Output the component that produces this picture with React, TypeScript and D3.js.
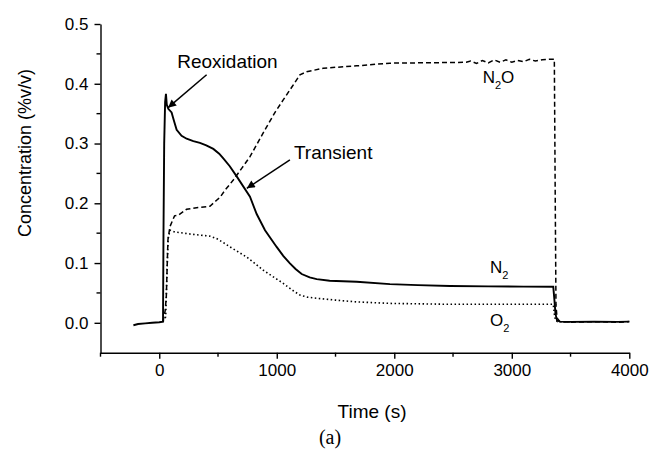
import React, { useEffect, useRef } from 'react';
import * as d3 from 'd3';

// time axis (s) and concentration axis (%v/v)
const xMajorTicks = [0, 1000, 2000, 3000, 4000];
const xMinorTicks = [-500, 500, 1500, 2500, 3500];
const yMajorTicks = [0.0, 0.1, 0.2, 0.3, 0.4, 0.5];
const yMinorTicks = [0.05, 0.15, 0.25, 0.35, 0.45];

// N2 (solid)
const n2Time = [-220, -180, -120, -60, 0, 32, 36, 42, 50, 57, 64, 77, 105, 125, 148, 190, 233, 290, 346, 400, 460, 510, 545, 600, 659, 772, 829, 900, 999, 1055, 1112, 1160, 1212, 1280, 1340, 1450, 1680, 1963, 2200, 2474, 2800, 3100, 3353, 3362, 3372, 3385, 3410, 3500, 3700, 3900, 4000];
const n2Values = [-0.004, -0.002, -0.001, 0.0, 0.001, 0.002, 0.15, 0.3, 0.37, 0.383, 0.365, 0.358, 0.352, 0.338, 0.323, 0.313, 0.308, 0.304, 0.301, 0.297, 0.291, 0.283, 0.275, 0.262, 0.245, 0.211, 0.182, 0.155, 0.127, 0.112, 0.0995, 0.09, 0.0816, 0.076, 0.0732, 0.0705, 0.0687, 0.0648, 0.063, 0.0615, 0.061, 0.0605, 0.0603, 0.04, 0.015, 0.004, 0.002, 0.0015, 0.002, 0.0015, 0.002];

// N2O (dashed)
const n2oTime = [32, 50, 60, 74, 91, 130, 162, 233, 330, 431, 488, 517, 560, 602, 630, 700, 772, 840, 914, 985, 1055, 1130, 1197, 1254, 1396, 1680, 1963, 2200, 2474, 2612, 2650, 2700, 2750, 2800, 2850, 2900, 2950, 3000, 3050, 3100, 3150, 3200, 3260, 3326, 3362, 3370, 3376, 3385, 3410, 3500, 3700, 3900, 4000];
const n2oValues = [0.002, 0.02, 0.044, 0.139, 0.161, 0.179, 0.18, 0.19, 0.193, 0.195, 0.205, 0.21, 0.222, 0.232, 0.239, 0.258, 0.278, 0.302, 0.328, 0.352, 0.373, 0.395, 0.415, 0.42, 0.426, 0.43, 0.4345, 0.435, 0.4355, 0.436, 0.438, 0.434, 0.439, 0.435, 0.44, 0.436, 0.44, 0.436, 0.439, 0.437, 0.441, 0.438, 0.44, 0.441, 0.441, 0.2, 0.03, 0.008, 0.002, 0.001, 0.002, 0.001, 0.002];

// O2 (dotted)
const o2Time = [32, 55, 65, 75, 91, 134, 261, 431, 488, 540, 602, 670, 744, 810, 885, 970, 1055, 1130, 1197, 1260, 1340, 1500, 1680, 1963, 2474, 3000, 3353, 3362, 3372, 3390, 3500];
const o2Values = [0.002, 0.01, 0.08, 0.14, 0.155, 0.152, 0.1486, 0.145, 0.141, 0.135, 0.127, 0.119, 0.11, 0.1, 0.088, 0.077, 0.066, 0.055, 0.0464, 0.043, 0.041, 0.038, 0.035, 0.0325, 0.031, 0.031, 0.031, 0.015, 0.004, 0.002, 0.0015];

// annotations in data coordinates
const arrowNotes = [
  { text: 'Reoxidation', tx: 153, ty: 0.426, x1: 403, y1: 0.415, x2: 75, y2: 0.36 },
  { text: 'Transient', tx: 1146, ty: 0.2737, x1: 1112, y1: 0.2725, x2: 745, y2: 0.225 },
];
const seriesLabels = [
  { base: 'N', sub: '2', tail: 'O', t: 2752, v: 0.401 },
  { base: 'N', sub: '2', tail: '', t: 2814, v: 0.0827 },
  { base: 'O', sub: '2', tail: '', t: 2814, v: -0.005 },
];

const font = '"Liberation Sans", Arial, sans-serif';

export default function App() {
  const ref = useRef<SVGSVGElement>(null);

  useEffect(() => {
    const svg = d3.select(ref.current);
    svg.selectAll('*').remove();

    const x = d3.scaleLinear().domain([-500, 4000]).range([100.5, 629.3]);
    const y = d3.scaleLinear().domain([-0.05, 0.5]).range([352.7, 24]);

    // axes
    const xAxis = svg.append('g').attr('transform', `translate(0,${y(-0.05)})`)
      .call(d3.axisBottom(x).tickValues(xMajorTicks).tickSize(6).tickSizeOuter(0).tickPadding(5).tickFormat(d3.format('d')));
    xAxis.selectAll('text').attr('font-size', 17).attr('font-family', font).attr('fill', '#000');
    xAxis.select('.domain').attr('stroke-width', 1.4);
    xAxis.selectAll('.tick line').attr('stroke-width', 1.4);
    xAxis.append('g').selectAll('line').data(xMinorTicks).enter().append('line')
      .attr('x1', d => x(d)).attr('x2', d => x(d)).attr('y1', 0).attr('y2', 4)
      .attr('stroke', '#000').attr('stroke-width', 1.4);

    const yAxis = svg.append('g').attr('transform', `translate(${x(-500)},0)`)
      .call(d3.axisLeft(y).tickValues(yMajorTicks).tickSize(6).tickSizeOuter(0).tickPadding(6).tickFormat(d3.format('.1f')));
    yAxis.selectAll('text').attr('font-size', 17).attr('font-family', font).attr('fill', '#000');
    yAxis.select('.domain').attr('stroke-width', 1.4);
    yAxis.selectAll('.tick line').attr('stroke-width', 1.4);
    yAxis.append('g').selectAll('line').data(yMinorTicks).enter().append('line')
      .attr('y1', d => y(d)).attr('y2', d => y(d)).attr('x1', 0).attr('x2', -4)
      .attr('stroke', '#000').attr('stroke-width', 1.4);

    // titles
    svg.append('text').attr('x', 372).attr('y', 418).attr('text-anchor', 'middle')
      .attr('font-family', font).attr('font-size', 19).text('Time (s)');
    svg.append('text').attr('transform', 'translate(31,153) rotate(-90)').attr('text-anchor', 'middle')
      .attr('font-family', font).attr('font-size', 18).text('Concentration (%v/v)');
    svg.append('text').attr('x', 330).attr('y', 444).attr('text-anchor', 'middle')
      .attr('font-family', '"Liberation Serif", "Times New Roman", serif').attr('font-size', 20).text('(a)');

    // lines
    const line = d3.line<[number, number]>().x(d => x(d[0])).y(d => y(d[1]));
    const series = [
      { t: o2Time, v: o2Values, dash: '1.5,2.5', w: 1.6 },
      { t: n2oTime, v: n2oValues, dash: '5,3', w: 1.5 },
      { t: n2Time, v: n2Values, dash: null, w: 1.9 },
    ];
    series.forEach(s => {
      const pts = s.t.map((t, i) => [t, s.v[i]] as [number, number]);
      svg.append('path').attr('d', line(pts)).attr('fill', 'none')
        .attr('stroke', '#000').attr('stroke-width', s.w)
        .attr('stroke-dasharray', s.dash);
    });

    // arrows
    svg.append('defs').append('marker').attr('id', 'head')
      .attr('viewBox', '0 0 10 10').attr('refX', 10).attr('refY', 5)
      .attr('markerWidth', 11).attr('markerHeight', 8).attr('markerUnits', 'userSpaceOnUse')
      .attr('orient', 'auto')
      .append('path').attr('d', 'M0,0L10,5L0,10Z').attr('fill', '#000');

    arrowNotes.forEach(a => {
      svg.append('line').attr('x1', x(a.x1)).attr('y1', y(a.y1)).attr('x2', x(a.x2)).attr('y2', y(a.y2))
        .attr('stroke', '#000').attr('stroke-width', 1.5).attr('marker-end', 'url(#head)');
      svg.append('text').attr('x', x(a.tx)).attr('y', y(a.ty))
        .attr('font-family', font).attr('font-size', 19).text(a.text);
    });

    seriesLabels.forEach(l => {
      const t = svg.append('text').attr('x', x(l.t)).attr('y', y(l.v))
        .attr('font-family', font).attr('font-size', 17);
      t.append('tspan').text(l.base);
      t.append('tspan').attr('font-size', 11).attr('dy', 6).text(l.sub);
      if (l.tail) t.append('tspan').attr('dy', -6).text(l.tail);
    });
  }, []);

  return (
    <svg ref={ref} width={650} height={450}
      style={{ position: 'absolute', left: 0, top: 0, background: '#fff' }} />
  );
}
